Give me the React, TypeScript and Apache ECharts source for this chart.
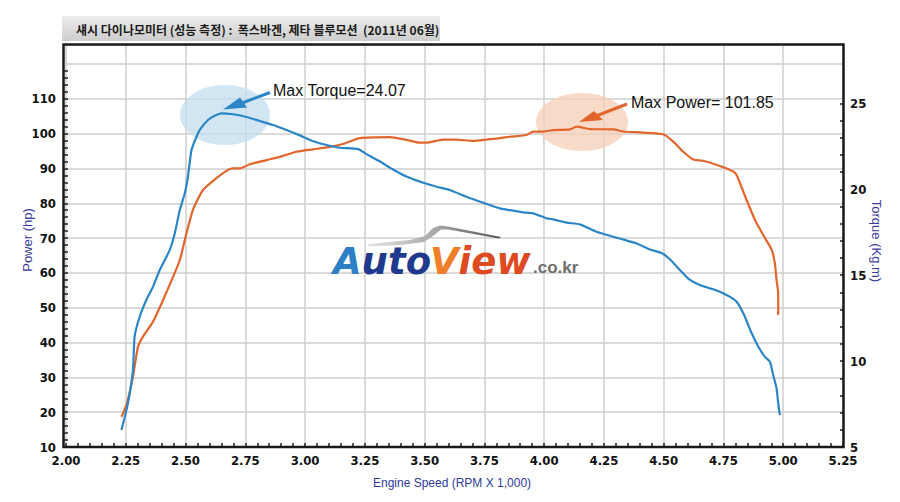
import React, { useEffect, useRef } from "react";
import * as echarts from "echarts";

// engine speed (x 1,000 rpm) vs power (hp) - orange curve, left axis
const powerRpm = [
  2.232, 2.253, 2.28, 2.301, 2.322, 2.364, 2.406, 2.448, 2.476, 2.504, 2.531, 2.573, 2.629, 2.678,
  2.699, 2.727, 2.769, 2.839, 2.908, 2.964, 3.034, 3.103, 3.159, 3.229, 3.354, 3.424, 3.48, 3.508,
  3.577, 3.633, 3.703, 3.759, 3.815, 3.856, 3.926, 3.954, 3.996, 4.038, 4.108, 4.136, 4.192, 4.289,
  4.331, 4.414, 4.498, 4.54, 4.582, 4.623, 4.665, 4.735, 4.791, 4.805, 4.847, 4.882, 4.916, 4.952,
  4.965, 4.972, 4.979, 4.979,
];
const powerHp = [
  18.7, 22.1, 30.2, 38.8, 41.7, 46.0, 52.2, 58.9, 63.7, 71.4, 78.1, 83.8, 87.2, 89.6,
  90.0, 90.0, 91.2, 92.4, 93.6, 94.8, 95.5, 96.2, 97.0, 98.7, 99.0, 98.2, 97.4, 97.4,
  98.3, 98.3, 97.9, 98.3, 98.7, 99.1, 99.6, 100.6, 100.6, 101.0, 101.2, 102.0, 101.3, 101.2,
  100.6, 100.3, 99.8, 97.7, 94.8, 92.6, 92.2, 90.7, 89.1, 88.1, 80.9, 75.2, 70.9, 66.6,
  62.8, 58.0, 54.1, 47.9,
];

// engine speed vs torque (kg.m) - blue curve, right axis
const torqueRpm = [
  2.232, 2.259, 2.28, 2.287, 2.308, 2.336, 2.364, 2.392, 2.434, 2.455, 2.476, 2.497, 2.51, 2.525,
  2.546, 2.559, 2.594, 2.622, 2.65, 2.699, 2.755, 2.81, 2.866, 2.922, 2.978, 3.034, 3.09, 3.145,
  3.222, 3.257, 3.312, 3.368, 3.424, 3.494, 3.55, 3.605, 3.675, 3.745, 3.815, 3.912, 3.954, 4.01,
  4.038, 4.094, 4.149, 4.219, 4.289, 4.331, 4.387, 4.442, 4.491, 4.526, 4.568, 4.605, 4.651, 4.707,
  4.763, 4.805, 4.833, 4.868, 4.896, 4.923, 4.944, 4.958, 4.972, 4.979, 4.986,
];
const torqueKgm = [
  5.99, 7.54, 9.48, 11.42, 12.58, 13.56, 14.33, 15.3, 16.47, 17.44, 18.8, 19.77, 20.73, 22.29,
  23.06, 23.45, 24.03, 24.28, 24.42, 24.37, 24.21, 23.98, 23.74, 23.45, 23.14, 22.8, 22.58, 22.42,
  22.34, 22.05, 21.63, 21.15, 20.74, 20.38, 20.15, 19.96, 19.57, 19.22, 18.89, 18.66, 18.6, 18.31,
  18.25, 18.06, 17.96, 17.53, 17.24, 17.08, 16.84, 16.5, 16.29, 15.93, 15.3, 14.77, 14.43, 14.18,
  13.85, 13.46, 12.78, 11.62, 10.84, 10.26, 9.97, 9.19, 8.42, 7.54, 6.86,
];

const hpLabels = [10, 20, 30, 40, 50, 60, 70, 80, 90, 100, 110];
const kgmLabels = [5, 10, 15, 20, 25];

const titleText = "섀시 다이나모미터 (성능 측정) :  폭스바겐, 제타 블루모션  (2011년 06월)";
const maxTorqueText = "Max Torque=24.07";
const maxPowerText = "Max Power= 101.85";

const NARROW = '"Liberation Sans Narrow", "DejaVu Sans Condensed", sans-serif';
const SANS = '"Liberation Sans", Arial, sans-serif';
const LOGO = '"DejaVu Sans", sans-serif';
const BLUE = "#2a86c6";
const ORANGE = "#e2662b";

function steps(from: number, to: number, step: number) {
  const out: number[] = [];
  for (let v = from; v <= to + 1e-9; v += step) out.push(Math.round(v * 1000) / 1000);
  return out;
}

function logoText(text: string, x: number, fill: string) {
  return {
    type: "text",
    x,
    y: 261,
    style: {
      text,
      fontSize: 37,
      fontWeight: "bold",
      fontStyle: "italic",
      fontFamily: LOGO,
      fill,
      verticalAlign: "middle",
    },
    z: 2,
  };
}

export default function App() {
  const chartRef = useRef<HTMLDivElement>(null);

  useEffect(() => {
    if (!chartRef.current) return;
    const chart = echarts.init(chartRef.current, null, { renderer: "svg" });

    const tickLabel = {
      color: "#111",
      fontSize: 13,
      fontWeight: "bold" as const,
      fontFamily: NARROW,
    };
    const tickLine = { color: "#222", width: 1.5 };

    const options = {
      animation: false,
      backgroundColor: "#fff",
      grid: { left: 66, right: 57, top: 45, bottom: 55, outerBoundsMode: "none" },
      xAxis: [
        {
          type: "value",
          min: 2,
          max: 5.25,
          interval: 0.25,
          position: "bottom",
          axisLine: { show: false },
          axisTick: { show: true, inside: true, length: 4, lineStyle: tickLine },
          minorTick: { show: true, splitNumber: 5, length: 4, lineStyle: tickLine },
          axisLabel: { ...tickLabel, margin: 7, formatter: (v: number) => v.toFixed(2) },
          splitLine: { show: true, lineStyle: { color: "#cfcfcf", width: 1.5 } },
        },
      ],
      yAxis: [
        {
          type: "value",
          min: 10,
          max: 125.45,
          interval: 10,
          position: "left",
          offset: 3,
          axisLine: { show: false },
          axisTick: { show: false },
          axisLabel: {
            ...tickLabel,
            margin: 7,
            formatter: (v: number) => (hpLabels.includes(Math.round(v * 100) / 100) ? String(v) : ""),
          },
          splitLine: { show: true, lineStyle: { color: "#cfcfcf", width: 1.5 } },
        },
        {
          type: "value",
          min: 5,
          max: 28.4,
          interval: 5,
          position: "right",
          offset: 1,
          axisLine: { show: false },
          axisTick: { show: false },
          axisLabel: {
            ...tickLabel,
            margin: 6,
            formatter: (v: number) => (kgmLabels.includes(Math.round(v * 100) / 100) ? String(v) : ""),
          },
          splitLine: { show: false },
        },
        {
          // tick marks only, left
          type: "value",
          min: 10,
          max: 125.45,
          position: "left",
          offset: 3,
          axisLine: { show: false },
          axisLabel: { show: false },
          splitLine: { show: false },
          axisTick: { show: true, inside: true, length: 5, lineStyle: tickLine, customValues: steps(10, 118, 2) },
        },
        {
          // tick marks only, right
          type: "value",
          min: 5,
          max: 28.4,
          position: "right",
          offset: 1,
          axisLine: { show: false },
          axisLabel: { show: false },
          splitLine: { show: false },
          axisTick: { show: true, inside: true, length: 4, lineStyle: tickLine, customValues: steps(5, 25, 1) },
        },
      ],
      series: [
        {
          name: "Power",
          type: "line",
          xAxisIndex: 0,
          yAxisIndex: 0,
          data: powerRpm.map((r, i) => [r, powerHp[i]]),
          symbol: "none",
          smooth: 0.2,
          lineStyle: { color: ORANGE, width: 2.2 },
          z: 3,
        },
        {
          name: "Torque",
          type: "line",
          xAxisIndex: 0,
          yAxisIndex: 1,
          data: torqueRpm.map((r, i) => [r, torqueKgm[i]]),
          symbol: "none",
          smooth: 0.2,
          lineStyle: { color: BLUE, width: 2.2 },
          z: 3,
        },
      ],
      graphic: [
        // title bar
        {
          type: "rect",
          shape: { x: 62, y: 16, width: 378, height: 25 },
          style: {
            fill: new echarts.graphic.LinearGradient(0, 0, 0, 1, [
              { offset: 0, color: "#ececec" },
              { offset: 1, color: "#cdcdcd" },
            ]),
          },
          z: 1,
        },
        {
          type: "text",
          x: 76,
          y: 29,
          style: {
            text: titleText,
            fontSize: 12,
            fontWeight: "bold",
            fontFamily: '"Noto Sans CJK KR", sans-serif',
            fill: "#1a1a1a",
            verticalAlign: "middle",
          },
          z: 2,
        },
        // annotation halos
        {
          type: "ellipse",
          shape: { cx: 225, cy: 115, rx: 45, ry: 30 },
          style: { fill: "#c3dcef", opacity: 0.75 },
          z: 1,
        },
        {
          type: "ellipse",
          shape: { cx: 582, cy: 122, rx: 46, ry: 29 },
          style: { fill: "#f5cdb5", opacity: 0.75 },
          z: 1,
        },
        // logo
        {
          type: "polygon",
          shape: {
            points: [
              [368, 244], [410, 240], [425, 236], [433, 228], [440, 225.5], [448, 226.5], [501, 237],
              [499, 238.5], [448, 229.5], [441, 229.5], [433, 236], [424, 242], [400, 245], [368, 246.5],
            ],
          },
          style: {
            fill: new echarts.graphic.LinearGradient(0, 0, 1, 0, [
              { offset: 0, color: "#e6e6e6" },
              { offset: 0.5, color: "#a8a8a8" },
              { offset: 1, color: "#555" },
            ]),
          },
          z: 1,
        },
        logoText("A", 333, "#2d7fc6"),
        logoText("uto", 361.6, "#1f3a8c"),
        logoText("V", 430, "#f07e2a"),
        logoText("iew", 458.6, "#de4a22"),
        {
          type: "text",
          x: 533,
          y: 267,
          style: {
            text: ".co.kr",
            fontSize: 17,
            fontWeight: "bold",
            fontFamily: SANS,
            fill: "#6e6e6e",
            verticalAlign: "middle",
          },
          z: 2,
        },
        // arrows + notes
        {
          type: "line",
          shape: { x1: 270, y1: 92.5, x2: 238, y2: 104.5 },
          style: { stroke: BLUE, lineWidth: 3 },
          z: 10,
        },
        {
          type: "polygon",
          shape: { points: [[223, 109.5], [240, 97.5], [247, 107.5]] },
          style: { fill: BLUE },
          z: 10,
        },
        {
          type: "line",
          shape: { x1: 627, y1: 104, x2: 596, y2: 116 },
          style: { stroke: ORANGE, lineWidth: 3 },
          z: 10,
        },
        {
          type: "polygon",
          shape: { points: [[579, 122], [594, 111], [603, 120]] },
          style: { fill: ORANGE },
          z: 10,
        },
        {
          type: "text",
          x: 273,
          y: 90,
          style: { text: maxTorqueText, fontSize: 16, fontFamily: SANS, fill: "#111", verticalAlign: "middle" },
          z: 10,
        },
        {
          type: "text",
          x: 631,
          y: 102,
          style: { text: maxPowerText, fontSize: 16, fontFamily: SANS, fill: "#111", verticalAlign: "middle" },
          z: 10,
        },
        // plot frame
        {
          type: "rect",
          shape: { x: 63.5, y: 44.5, width: 780, height: 402.5 },
          style: { fill: "none", stroke: "#1a1a1a", lineWidth: 2.5 },
          z: 20,
        },
        // axis names
        {
          type: "text",
          x: 27,
          y: 240,
          rotation: Math.PI / 2,
          style: {
            text: "Power (hp)",
            fontSize: 13,
            fontFamily: SANS,
            fill: "#3b3d9e",
            align: "center",
            verticalAlign: "middle",
          },
        },
        {
          type: "text",
          x: 876,
          y: 241,
          rotation: -Math.PI / 2,
          style: {
            text: "Torque (Kg.m)",
            fontSize: 13,
            fontFamily: SANS,
            fill: "#3b3d9e",
            align: "center",
            verticalAlign: "middle",
          },
        },
        {
          type: "text",
          x: 452,
          y: 483,
          style: {
            text: "Engine Speed (RPM X 1,000)",
            fontSize: 12,
            fontFamily: SANS,
            fill: "#2d3c9c",
            align: "center",
            verticalAlign: "middle",
          },
        },
      ],
    };

    chart.setOption(options);

    return () => {
      chart.dispose();
    };
  }, []);

  return (
    <div
      ref={chartRef}
      style={{ position: "fixed", left: 0, top: 0, width: "900px", height: "502px", background: "#fff" }}
    />
  );
}
